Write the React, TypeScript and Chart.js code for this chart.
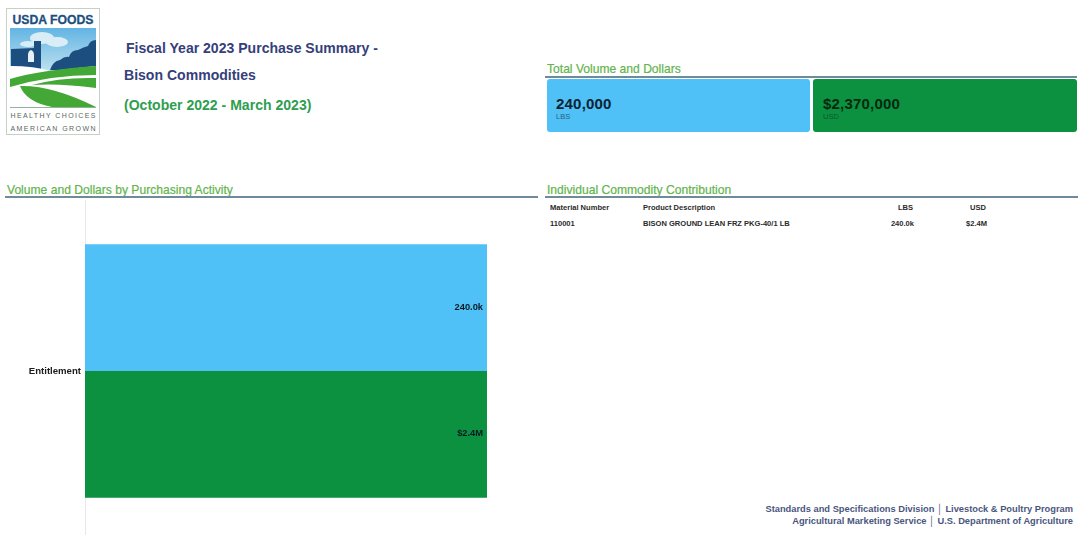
import React, { useEffect, useRef } from "react";
import { Chart, registerables } from "chart.js";

Chart.register(...registerables);

const categories = ["Entitlement"];
const lbsValues = [240000];
const usdValues = [2370000];
const lbsLabels = ["240.0k"];
const usdLabels = ["$2.4M"];
const seriesNames = ["LBS", "USD"];
const BLUE = "#4FC1F7";
const GREEN = "#0B9140";
const NAVY = "#35407A";
const HEAD = "#62B44C";
const FONT = "'Liberation Sans', Arial, sans-serif";

const tableHead = ["Material Number", "Product Description", "LBS", "USD"];
const tableRow = ["110001", "BISON GROUND LEAN FRZ PKG-40/1 LB", "240.0k", "$2.4M"];

const abs = (left: number, top: number, extra: React.CSSProperties = {}): React.CSSProperties => ({
  position: "absolute", left, top, whiteSpace: "nowrap", lineHeight: 1, ...extra,
});

function Logo() {
  const F1 = "#43A836";
  const DB = "#1C4F80";
  return (
    <svg style={{ position: "absolute", left: 6, top: 8 }} width={94} height={127} viewBox="6 8 94 127">
      <defs>
        <linearGradient id="sky" x1="0" y1="0" x2="0" y2="1">
          <stop offset="0" stopColor="#62B4E4" />
          <stop offset="1" stopColor="#BFE2EE" />
        </linearGradient>
      </defs>
      <rect x="6.5" y="8.5" width="93" height="126" fill="#fff" stroke="#c3d2c6" />
      <text x="53" y="23.5" textAnchor="middle" fontFamily={FONT} fontWeight="700" fontSize="12.5" fill={DB} stroke={DB} strokeWidth="0.3" textLength="81" lengthAdjust="spacingAndGlyphs">USDA FOODS</text>
      <rect x="10" y="28" width="86" height="44" fill="url(#sky)" />
      <ellipse cx="42" cy="38" rx="12" ry="6" fill="#d8edf6" />
      <ellipse cx="57" cy="42" rx="11" ry="5" fill="#d8edf6" />
      <ellipse cx="28" cy="44" rx="8" ry="3" fill="#d8edf6" />
      <path d="M11 49 L34 48 L34 41 L41 41 L41 70 L11 66 Z" fill={DB} />
      <path d="M50 70 Q53 61 60 60 Q65 56 69 57 Q71 50 78 50 Q84 47 88 46 Q90 40 96 40 L96 72 Z" fill={DB} />
      <path d="M28 62 V55 Q28 51 31 50 Q34 51 34 55 V62 Z" fill="#e8f2f4" />
      <path d="M10 66 Q35 66 50 71 L96 66 V107 H10 Z" fill="#fff" />
      <path d="M10 79 Q40 70 96 66 V75 Q50 75 10 87 Z" fill={F1} />
      <path d="M32 85 Q60 77 96 78 V88 Q60 83 32 85 Z" fill={F1} />
      <path d="M20 86 Q52 85 96 107 H52 Q26 102 20 86 Z" fill={F1} />
      <rect x="10" y="107" width="86" height="1" fill="#8fb49a" />
      <text x="53" y="118" textAnchor="middle" fontFamily={FONT} fontSize="7" fill="#59675f" textLength="85">HEALTHY CHOICES</text>
      <text x="53" y="131" textAnchor="middle" fontFamily={FONT} fontSize="7" fill="#59675f" textLength="85">AMERICAN GROWN</text>
    </svg>
  );
}

export default function App() {
  const ref = useRef<HTMLCanvasElement>(null);
  useEffect(() => {
    if (!ref.current) return;
    const labels = [lbsLabels, usdLabels];
    const chart = new Chart(ref.current, {
      type: "bar",
      data: {
        labels: categories,
        datasets: [
          { label: seriesNames[0], data: lbsValues, backgroundColor: BLUE, xAxisID: "xLbs", barPercentage: 1, categoryPercentage: 0.744 },
          { label: seriesNames[1], data: usdValues, backgroundColor: GREEN, xAxisID: "xUsd", barPercentage: 1, categoryPercentage: 0.744 },
        ],
      },
      options: {
        indexAxis: "y",
        responsive: false,
        animation: false,
        layout: { padding: { left: 0, right: 53, top: 0, bottom: 0 } },
        plugins: { legend: { display: false }, tooltip: { enabled: false } },
        scales: {
          y: {
            afterFit: (s: any) => { s.width = 85; },
            grid: { display: false, drawTicks: false },
            border: { display: true, color: "#e8e8e8", width: 1 },
            ticks: { color: "#1c1c1c", font: { family: FONT, size: 9.6, weight: "bold" }, padding: 4 },
          },
          xLbs: { type: "linear", display: false, min: 0, max: lbsValues[0], position: "bottom" },
          xUsd: { type: "linear", display: false, min: 0, max: usdValues[0], position: "top" },
        },
      },
      plugins: [{
        id: "barLabels",
        afterDatasetsDraw(c: any) {
          const g = c.ctx;
          g.save();
          g.font = `bold 9.3px ${FONT}`;
          g.fillStyle = "#0a1a24";
          g.textAlign = "right";
          g.textBaseline = "middle";
          c.data.datasets.forEach((_: any, i: number) => {
            c.getDatasetMeta(i).data.forEach((el: any, j: number) => {
              g.fillText(labels[i][j], el.x - 4, el.y - 0.5);
            });
          });
          g.restore();
        },
      }],
    } as any);
    return () => chart.destroy();
  }, []);

  const headLine = (left: number, top: number, width: number): React.CSSProperties => ({
    position: "absolute", left, top, width, height: 2, background: "#6F8A9C",
  });
  const section: React.CSSProperties = { color: HEAD, fontFamily: FONT, fontSize: 12.1, WebkitTextStroke: "0.2px #62B44C" } as any;
  const cell = { fontFamily: FONT, fontSize: 7.55, fontWeight: 700, color: "#2b2b2b" };

  return (
    <div style={{ position: "fixed", left: 0, top: 0, width: 1086, height: 535, overflow: "hidden", background: "#fff", fontFamily: FONT, filter: "blur(0.35px)" }}>
      <Logo />
      <div style={abs(126, 41, { fontSize: 14.05, fontWeight: 700, color: NAVY })}>Fiscal Year 2023 Purchase Summary -</div>
      <div style={abs(124, 68, { fontSize: 14.05, fontWeight: 700, color: NAVY })}>Bison Commodities</div>
      <div style={abs(124, 98, { fontSize: 14.05, fontWeight: 700, color: "#2E9E4F" })}>(October 2022 - March 2023)</div>

      <div style={abs(547, 63, section)}>Total Volume and Dollars</div>
      <div style={headLine(545, 76, 532)} />
      <div style={{ position: "absolute", left: 547, top: 79, width: 263, height: 53, background: BLUE, borderRadius: 3 }} />
      <div style={{ position: "absolute", left: 813, top: 79, width: 264, height: 53, background: GREEN, borderRadius: 3 }} />
      <div style={abs(556, 96, { fontSize: 15, fontWeight: 700, color: "#0c2233", letterSpacing: 0.2 })}>240,000</div>
      <div style={abs(556, 113, { fontSize: 7.5, color: "#2d5f80" })}>LBS</div>
      <div style={abs(823, 96, { fontSize: 15, fontWeight: 700, color: "#06280f", letterSpacing: 0.2 })}>$2,370,000</div>
      <div style={abs(823, 113, { fontSize: 7.5, color: "#0b5a2a" })}>USD</div>

      <div style={abs(7, 184, section)}>Volume and Dollars by Purchasing Activity</div>
      <div style={headLine(5, 196, 533)} />
      <div style={abs(547, 184, section)}>Individual Commodity Contribution</div>
      <div style={headLine(545, 196, 533)} />

      <div style={abs(550, 204, cell)}>{tableHead[0]}</div>
      <div style={abs(643, 204, cell)}>{tableHead[1]}</div>
      <div style={abs(0, 204, { ...cell, left: "auto", right: 1086 - 913 })}>{tableHead[2]}</div>
      <div style={abs(0, 204, { ...cell, left: "auto", right: 1086 - 986 })}>{tableHead[3]}</div>
      <div style={abs(550, 220, cell)}>{tableRow[0]}</div>
      <div style={abs(643, 220, cell)}>{tableRow[1]}</div>
      <div style={abs(0, 220, { ...cell, left: "auto", right: 1086 - 914 })}>{tableRow[2]}</div>
      <div style={abs(0, 220, { ...cell, left: "auto", right: 1086 - 987 })}>{tableRow[3]}</div>

      <canvas ref={ref} width={540} height={360} style={{ position: "absolute", left: 0, top: 191, width: 540, height: 360 }} />

      <div style={abs(0, 505, { left: "auto", right: 13, fontSize: 9.3, fontWeight: 700, color: "#4a5680" })}>Standards and Specifications Division │ Livestock &amp; Poultry Program</div>
      <div style={abs(0, 517, { left: "auto", right: 13, fontSize: 9.3, fontWeight: 700, color: "#4a5680" })}>Agricultural Marketing Service │ U.S. Department of Agriculture</div>
    </div>
  );
}
